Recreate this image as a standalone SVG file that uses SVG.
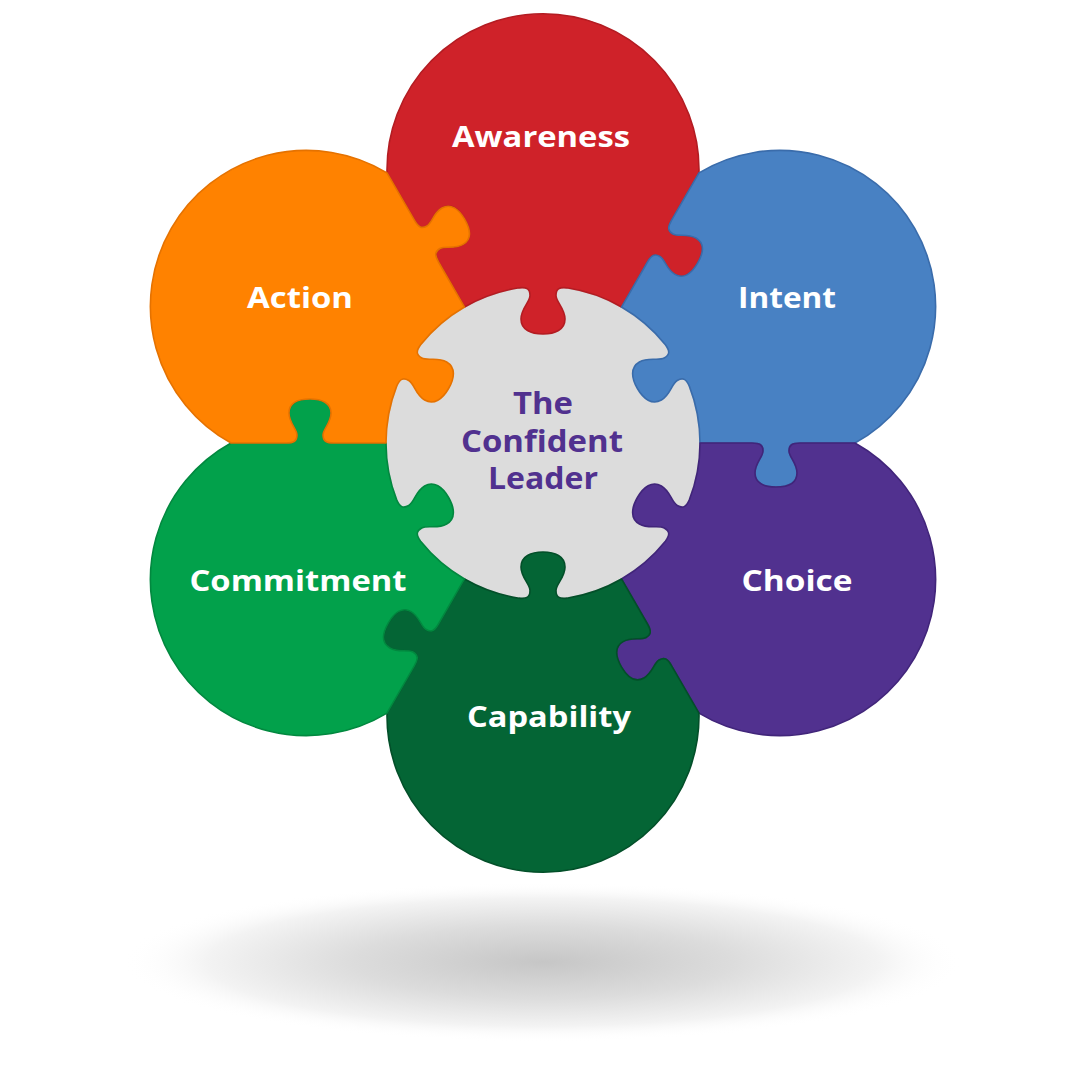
<svg xmlns="http://www.w3.org/2000/svg" xmlns:xlink="http://www.w3.org/1999/xlink" width="1086" height="1086" viewBox="0 0 1086 1086">
<defs>
<radialGradient id="groundShadow" cx="0.5" cy="0.5" r="0.5">
<stop offset="0" stop-color="#c6c6c6"/>
<stop offset="0.45" stop-color="#dcdcdc"/>
<stop offset="0.8" stop-color="#f3f3f3"/>
<stop offset="1" stop-color="#ffffff" stop-opacity="0"/>
</radialGradient>
<path id="piece" d="M -78.5,-135.97 L -104.5,-181 C -108.5,-187.92 -108.27,-191.52 -103.07,-194.52 C -97.88,-197.52 -88.68,-193.59 -80.02,-198.59 C -71.36,-203.59 -72.39,-213.39 -78.39,-223.78 C -84.39,-234.17 -92.36,-239.97 -101.02,-234.97 C -109.68,-229.97 -110.88,-220.04 -116.07,-217.04 C -121.27,-214.04 -124.5,-215.64 -128.5,-222.56 L -155.97,-270.16 A 156 156 0 1 1 155.97,-270.16 L 128.5,-222.56 C 124.5,-215.64 124.73,-212.04 129.93,-209.04 C 135.12,-206.04 144.32,-209.97 152.98,-204.97 C 161.64,-199.97 160.61,-190.17 154.61,-179.78 C 148.61,-169.39 140.64,-163.59 131.98,-168.59 C 123.32,-173.59 122.12,-183.52 116.93,-186.52 C 111.73,-189.52 108.5,-187.92 104.5,-181 L 78.5,-135.97 A 157 157 0 0 0 23.91,-155.17 C 16,-156 13,-154 13,-147.5 C 13,-141 22,-134.6 22,-124 C 22,-113.2 12,-109 0,-109 C -12,-109 -22,-113.2 -22,-124 C -22,-134.6 -13,-141 -13,-147.5 C -13,-154 -16,-156 -23.91,-155.17 A 157 157 0 0 0 -78.5,-135.97 Z"/>
</defs>
<style>
.pc{stroke-width:1.6;stroke-linejoin:round}
.lbl{font-family:"Open Sans","Liberation Sans",sans-serif;font-weight:700;font-size:29px;fill:#ffffff;text-anchor:middle}
.ctr{font-family:"Open Sans","Liberation Sans",sans-serif;font-weight:700;font-size:30px;fill:#51318f;text-anchor:middle}
</style>
<rect x="0" y="0" width="1086" height="1086" fill="#ffffff"/>
<ellipse cx="543" cy="962" rx="420" ry="80" fill="url(#groundShadow)"/>
<g id="center">
<circle cx="543" cy="443" r="157" fill="#dcdcdc" stroke="#c4c4c4" stroke-width="1.5"/>
</g>
<g id="awareness">
<use xlink:href="#piece" href="#piece" class="pc" transform="translate(543 443)" fill="#cf2229" stroke="#b31c22"/>
<text class="lbl" x="541" y="147" textLength="178" lengthAdjust="spacingAndGlyphs">Awareness</text>
</g>
<g id="intent">
<use xlink:href="#piece" href="#piece" class="pc" transform="translate(543 443) rotate(60)" fill="#4881c3" stroke="#3a6cab"/>
<text class="lbl" x="787" y="308" textLength="98" lengthAdjust="spacingAndGlyphs">Intent</text>
</g>
<g id="choice">
<use xlink:href="#piece" href="#piece" class="pc" transform="translate(543 443) rotate(120)" fill="#51318f" stroke="#41257a"/>
<text class="lbl" x="797" y="591" textLength="111" lengthAdjust="spacingAndGlyphs">Choice</text>
</g>
<g id="capability">
<use xlink:href="#piece" href="#piece" class="pc" transform="translate(543 443) rotate(180)" fill="#046535" stroke="#034f29"/>
<text class="lbl" x="549" y="727" textLength="164" lengthAdjust="spacingAndGlyphs">Capability</text>
</g>
<g id="commitment">
<use xlink:href="#piece" href="#piece" class="pc" transform="translate(543 443) rotate(240)" fill="#02a14b" stroke="#02883f"/>
<text class="lbl" x="298" y="591" textLength="217" lengthAdjust="spacingAndGlyphs">Commitment</text>
</g>
<g id="action">
<use xlink:href="#piece" href="#piece" class="pc" transform="translate(543 443) rotate(300)" fill="#ff8200" stroke="#e57200"/>
<text class="lbl" x="300" y="308" textLength="106" lengthAdjust="spacingAndGlyphs">Action</text>
</g>
<g id="center-label">
<text class="ctr" x="543" y="414" textLength="60" lengthAdjust="spacingAndGlyphs">The</text>
<text class="ctr" x="542" y="452" textLength="162" lengthAdjust="spacingAndGlyphs">Confident</text>
<text class="ctr" x="543" y="489" textLength="110" lengthAdjust="spacingAndGlyphs">Leader</text>
</g>
<g id="connectors"/>
</svg>
